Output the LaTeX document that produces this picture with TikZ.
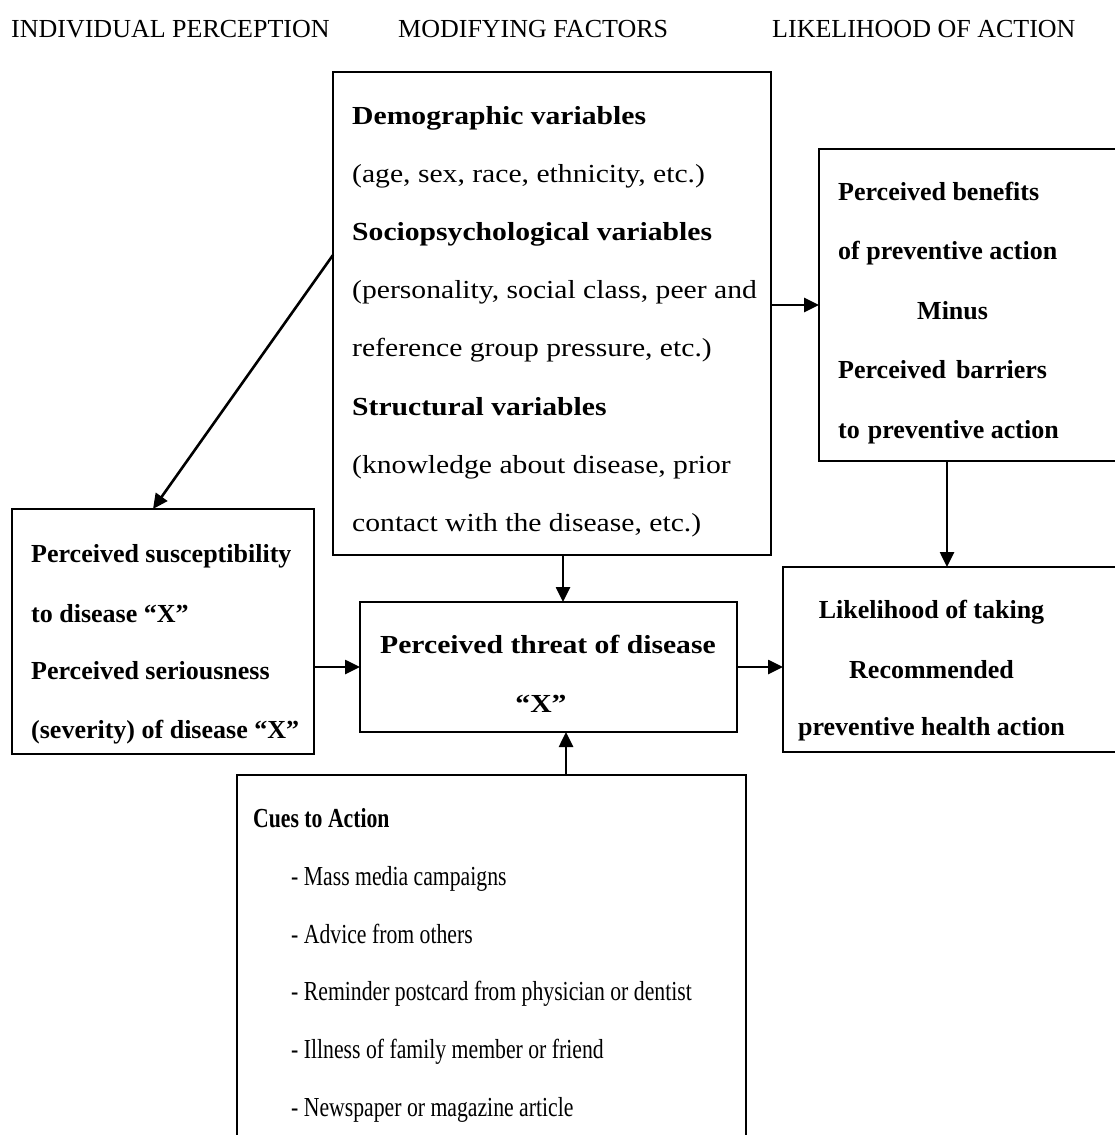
\documentclass[tikz,border=0pt]{standalone}
\usepackage{fontspec}
\setmainfont{Liberation Serif}
\newfontfamily\widefont[FakeStretch=1.14]{Liberation Serif}
\newfontfamily\narrowfont[FakeStretch=0.79]{Liberation Serif}
\usetikzlibrary{arrows.meta}
\begin{document}
\begin{tikzpicture}[x=1pt,y=-1pt,
  box/.style={draw=black, line width=1.4pt, inner sep=0pt, outer sep=0pt, anchor=north west},
  arr/.style={line width=2.6pt, -{Triangle[length=15pt,width=14pt]}},
  tx/.style={inner sep=0pt, anchor=base west, font=\fontsize{26pt}{30pt}\selectfont},
  bx/.style={tx, font=\fontsize{26pt}{30pt}\selectfont\bfseries},
  wtx/.style={tx, font=\widefont\fontsize{26pt}{30pt}\selectfont},
  wbx/.style={tx, font=\widefont\fontsize{26pt}{30pt}\selectfont\bfseries},
  ntx/.style={tx, font=\narrowfont\fontsize{27.5pt}{30pt}\selectfont},
  nbx/.style={tx, font=\narrowfont\fontsize{27.5pt}{30pt}\selectfont\bfseries}
]
\path[use as bounding box, fill=white] (0,0) rectangle (1115,1135);
\clip (0,0) rectangle (1115,1135);

% column titles
\node[tx] (t1) at (11,37) {INDIVIDUAL PERCEPTION};
\node[tx] (t2) at (398,37) {MODIFYING FACTORS};
\node[tx] (t3) at (772,37) {LIKELIHOOD OF ACTION};

% boxes
\node[box, minimum width=438pt, minimum height=483pt] (mod) at (333,72) {};
\node[box, minimum width=301pt, minimum height=312pt] (ben) at (819,149) {};
\node[box, minimum width=302pt, minimum height=245pt] (sus) at (12,509) {};
\node[box, minimum width=377pt, minimum height=130pt] (thr) at (360,602) {};
\node[box, minimum width=337pt, minimum height=185pt] (lik) at (783,567) {};
\node[box, minimum width=509pt, minimum height=370pt] (cue) at (237,775) {};

% modifying factors text
\node[wbx] (m1) at (352,124) {Demographic variables};
\node[wtx] (m2) at (352,182) {(age, sex, race, ethnicity, etc.)};
\node[wbx] (m3) at (352,240) {Sociopsychological variables};
\node[wtx] (m4) at (352,298) {(personality, social class, peer and};
\node[wtx] (m5) at (352,356) {reference group pressure, etc.)};
\node[wbx] (m6) at (352,415) {Structural variables};
\node[wtx] (m7) at (352,473) {(knowledge about disease, prior};
\node[wtx] (m8) at (352,531) {contact with the disease, etc.)};

% benefits text
\node[bx] (b1) at (838,200) {Perceived benefits};
\node[bx] (b2) at (838,259.5) {of preventive action};
\node[bx] (b3) at (917,319) {Minus};
\node[bx] (b4) at (838,378.5) {Perceived\hspace{10pt}barriers};
\node[bx] (b5) at (838,438) {to\hspace{8pt}preventive action};

% susceptibility text
\node[bx] (s1) at (31,562) {Perceived susceptibility};
\node[bx] (s2) at (31,622) {to disease “X”};
\node[bx] (s3) at (31,679) {Perceived seriousness};
\node[bx] (s4) at (31,738) {(severity) of disease “X”};

% threat text
\node[wbx] (h1) at (380,653) {Perceived threat of disease};
\node[wbx, anchor=base] (h2) at (541,712) {“X”};

% likelihood text
\node[bx, anchor=base] (l1) at (931.5,618) {Likelihood of taking};
\node[bx, anchor=base] (l2) at (931.5,678) {Recommended};
\node[bx, anchor=base] (l3) at (931.5,735) {preventive health action};

% cues text
\node[nbx] (c0) at (253,827) {Cues to Action};
\node[ntx] (c1) at (291,885) {- Mass media campaigns};
\node[ntx] (c2) at (291,943) {- Advice from others};
\node[ntx] (c3) at (291,1000) {- Reminder postcard from physician or dentist};
\node[ntx] (c4) at (291,1058) {- Illness of family member or friend};
\node[ntx] (c5) at (291,1116) {- Newspaper or magazine article};

% connectors
\coordinate (dstart) at ([yshift=58.5pt]mod.west);
\coordinate (dend) at ([xshift=-10pt]sus.north);
\draw[arr] (dstart) -- (dend);
\draw[arr] (ben.west -| mod.east) -- (ben.west);
\coordinate (bs) at ([xshift=-22.5pt]ben.south);
\draw[arr] (bs) -- (bs |- lik.north);
\coordinate (ms) at ([xshift=11pt]mod.south);
\draw[arr] (ms) -- (ms |- thr.north);
\coordinate (ts) at ([xshift=17.5pt]thr.south);
\draw[arr] (ts |- cue.north) -- (ts);
\draw[arr] (sus.east |- thr.west) -- (thr.west);
\draw[arr] (thr.east) -- (thr.east -| lik.west);
\end{tikzpicture}
\end{document}
